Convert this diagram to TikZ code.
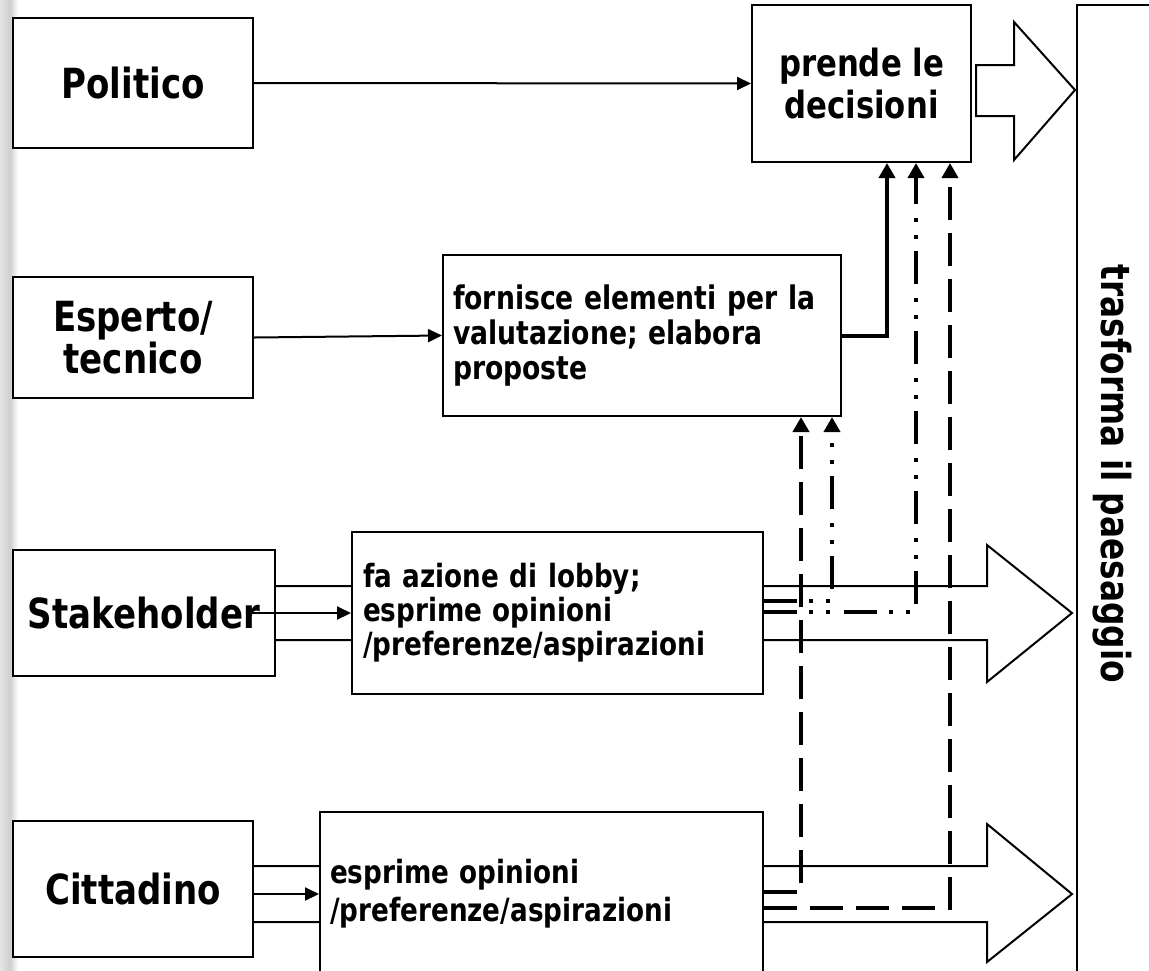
\documentclass[tikz,border=0pt]{standalone}
\usepackage{fontspec}
\setmainfont{DejaVu Sans}[FakeStretch=0.82]
\usetikzlibrary{arrows.meta,calc}
\newcommand\fntMain{\bfseries\fontsize{20.75pt}{20pt}\selectfont}
\newcommand\fntPrende{\bfseries\fontsize{18.75pt}{21pt}\selectfont}
\newcommand\fntForn{\bfseries\fontsize{16.25pt}{17.5pt}\selectfont}
\newcommand\fntFaz{\bfseries\fontsize{16pt}{17pt}\selectfont}
\newcommand\fntEspr{\bfseries\fontsize{16pt}{19pt}\selectfont}
\newcommand\fntCol{\bfseries\fontsize{20pt}{24pt}\selectfont}
\tikzset{
  box/.style={draw, line width=1pt, fill=white, inner sep=0pt},
  bigarr/.style={draw, line width=1pt, fill=white, line join=miter},
  thinarr/.style={line width=1pt, -{Triangle[length=7pt,width=6.5pt]}},
  thickarr/.style={line width=2pt, -{Triangle[length=7.5pt,width=8pt]}},
  dashln/.style={thickarr, dash pattern=on 16.5pt off 6.5pt},
  ddln/.style={thickarr, dash pattern=on 16.5pt off 6pt on 2pt off 6.5pt on 2pt off 7pt},
}
\begin{document}
\begin{tikzpicture}[x=0.5pt,y=-0.5pt]
\path[use as bounding box] (0,0) rectangle (1149,970);
\clip (0,0) rectangle (1149,970);
\fill[white] (0,0) rectangle (1149,970);
% left shadow
\fill[left color=gray!22, right color=gray!38] (0,0) rectangle (10,970);
\fill[left color=gray!38, right color=white] (10,0) rectangle (18,970);
% right column
\node[box, minimum width=45pt, minimum height=490pt, anchor=north west] (col) at (1076,4) {};
\node[font=\fntCol, rotate=-90, inner sep=0pt] (trans) at (1112,474) {trasforma il paesaggio};
% block arrows
\draw[bigarr] (976,65) -- (1014,65) -- (1014,22) -- (1075,90) -- (1014,160) -- (1014,116) -- (976,116) -- cycle;
\draw[bigarr] (200,586) -- (987,586) -- (987,545) -- (1072,613) -- (987,682) -- (987,640) -- (200,640) -- cycle;
\draw[bigarr] (200,866) -- (987,866) -- (987,824) -- (1072,894) -- (987,962) -- (987,922) -- (200,922) -- cycle;
% boxes
\node[box, minimum width=120pt, minimum height=65pt, font=\fntMain] (pol) at (133,83) {Politico};
\node[box, minimum width=109.5pt, minimum height=78.5pt, align=center, font=\fntPrende] (prend) at (861.5,83.5) {prende le\\decisioni};
\node[box, minimum width=120pt, minimum height=60.5pt, align=center, font=\fntMain] (esp) at (133,337.5) {Esperto/\\tecnico};
\node[box, minimum width=199pt, minimum height=80.5pt, inner xsep=5pt, text width=189pt, align=left, font=\fntForn] (forn) at (642,335.5) {fornisce elementi per la\\valutazione; elabora\\proposte};
\node[box, minimum width=131pt, minimum height=63pt, font=\fntMain] (stk) at (144,613) {Stakeholder};
\node[box, minimum width=205.5pt, minimum height=81pt, inner xsep=5.5pt, text width=194.5pt, align=left, font=\fntFaz] (faz) at (557.5,613) {fa azione di lobby;\\esprime opinioni\\/preferenze/aspirazioni};
\node[box, minimum width=120pt, minimum height=68pt, font=\fntMain] (cit) at (133,889) {Cittadino};
\node[box, minimum width=221.5pt, minimum height=82pt, inner xsep=5pt, text width=211.5pt, align=left, font=\fntEspr] (espr) at (541.5,894) {esprime opinioni\\/preferenze/aspirazioni};
% connectors
\draw[thinarr] (pol.east) -- (prend.west);
\draw[thinarr] (esp.east) -- (forn.west);
\draw[thinarr] ($(stk.east)+(-25,0)$) -- (faz.west);
\draw[thinarr] (cit.east |- espr.west) -- (espr.west);
\draw[thickarr] (forn.east) -| ($(prend.south)+(25.5,0)$);
\draw[ddln] ($(faz.east)+(0,-12)$) -| ($(forn.south)+(190,0)$);
\draw[ddln] ($(faz.east)+(0,-1)$) -| ($(prend.south)+(54.5,0)$);
\draw[dashln] ($(espr.east)+(0,-2)$) -| ($(forn.south)+(159,0)$);
\draw[dashln] ($(espr.east)+(0,14)$) -| ($(prend.south)+(88.5,0)$);
\end{tikzpicture}
\end{document}
